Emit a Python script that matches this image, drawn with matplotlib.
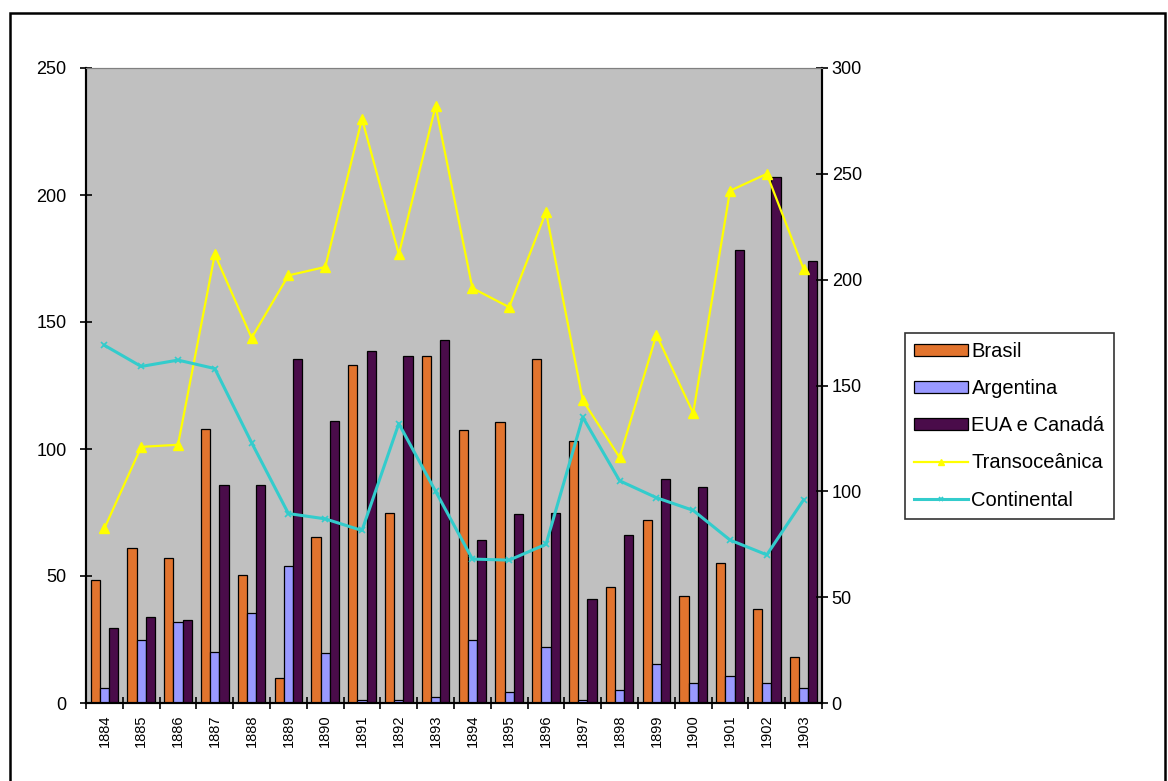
import matplotlib
matplotlib.use("Agg")
import matplotlib.pyplot as plt
import numpy as np
from matplotlib.patches import Rectangle

plt.rcParams['font.family'] = ['Liberation Sans', 'DejaVu Sans']

years = [str(y) for y in range(1884, 1904)]
brasil = [48.5, 61, 57, 108, 50.5, 10, 65.5, 133, 75, 136.5, 107.5, 110.5, 135.5, 103, 45.5, 72, 42, 55, 37, 18]
argentina = [6, 25, 32, 20, 35.5, 54, 19.5, 1, 1, 2.5, 25, 4.5, 22, 1, 5, 15.5, 8, 10.5, 8, 6]
eua_canada = [29.5, 34, 32.5, 86, 86, 135.5, 111, 138.5, 136.5, 143, 64, 74.5, 75, 41, 66, 88, 85, 178.5, 207, 174]
transoceanica = [82.5, 121, 122, 212, 172.5, 202, 206, 276, 212, 282, 196, 187, 232, 143, 116, 174, 137, 242, 250, 205]
continental = [169, 159, 162, 158, 123, 89.5, 87, 81.5, 132, 100, 68, 67.5, 75, 135, 105, 97, 91, 77, 70, 96]

W, H = 1168, 781
fig = plt.figure(figsize=(W/100, H/100), dpi=100)
fig.patch.set_facecolor('white')

left, right, top, bottom = 86/W, 822/W, 1-68/H, 1-703/H
ax = fig.add_axes([left, bottom, right-left, top-bottom])
ax.set_facecolor('#C0C0C0')
ax2 = ax.twinx()

x = np.arange(len(years))
bw = 0.25
ax.bar(x - bw, brasil, bw, color='#E2742E', edgecolor='black', linewidth=0.9, label='Brasil', zorder=2)
ax.bar(x, argentina, bw, color='#9999FF', edgecolor='black', linewidth=0.9, label='Argentina', zorder=2)
ax.bar(x + bw, eua_canada, bw, color='#4A0C4A', edgecolor='black', linewidth=0.9, label='EUA e Canadá', zorder=2)

l1, = ax2.plot(x, transoceanica, color='#FFFF00', linewidth=1.6, marker='^', markersize=7,
               markerfacecolor='#FFFF00', markeredgecolor='#FFFF00', label='Transoceânica', zorder=3)
l2, = ax2.plot(x, continental, color='#33CCCC', linewidth=2.2, marker='x', markersize=5,
               markeredgecolor='#33CCCC', markeredgewidth=1.2, label='Continental', zorder=3)

ax.set_xlim(-0.5, len(years) - 0.5)
ax.set_ylim(0, 250)
ax2.set_ylim(0, 300)
ax.set_yticks([0, 50, 100, 150, 200, 250])
ax2.set_yticks([0, 50, 100, 150, 200, 250, 300])

ax.set_xticks(x)
ax.set_xticklabels(years, rotation=90, fontsize=10.5)
ax.set_xticks(np.arange(-0.5, len(years)), minor=True)
ax.tick_params(axis='x', which='major', length=0, pad=8)
ax.tick_params(axis='x', which='minor', length=8, direction='inout', width=1.2, color='black')
ax.tick_params(axis='y', length=8, direction='inout', width=1.2, labelsize=13, pad=10)
ax2.tick_params(axis='y', length=8, direction='inout', width=1.2, labelsize=13, pad=3)

for a in (ax, ax2):
    a.spines['top'].set_color('#808080')
    a.spines['left'].set_linewidth(1.5)
    a.spines['right'].set_linewidth(1.5)
    a.spines['bottom'].set_linewidth(1.5)

h1, lab1 = ax.get_legend_handles_labels()
leg = fig.legend(h1 + [l1, l2], lab1 + ['Transoceânica', 'Continental'],
                 loc='upper left', bbox_to_anchor=(905/W, 1-333/H),
                 fontsize=14.5, frameon=True, fancybox=False, edgecolor='black',
                 borderaxespad=0, handlelength=2.7, handleheight=0.5, handletextpad=0.15,
                 labelspacing=0.9, borderpad=0.45, markerscale=0.6)
leg.get_frame().set_linewidth(1.2)

fig.patches.append(Rectangle((10/W, -0.05), (1165-10)/W, 1.05 - 12.5/H,
                             transform=fig.transFigure, fill=False,
                             edgecolor='black', linewidth=1.8))

fig.savefig('out.png', dpi=100)
